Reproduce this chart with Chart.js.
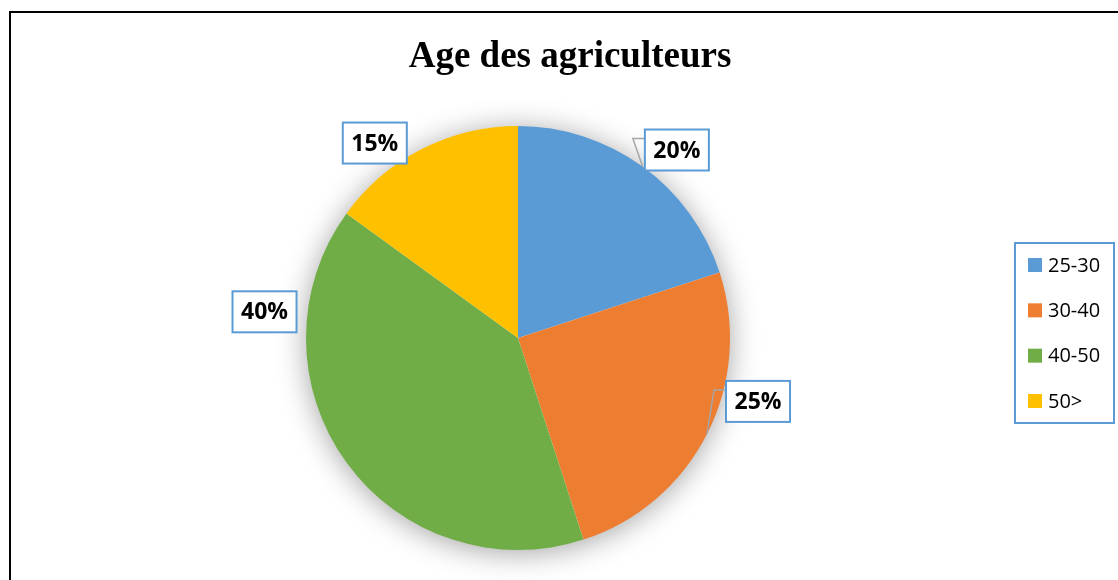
<!DOCTYPE html>
<html lang="fr">
<head>
  <meta charset="UTF-8" />
  <title>Age des agriculteurs</title>
  <script src="https://cdn.jsdelivr.net/npm/chart.js"></script>
  <style>
    html, body { margin: 0; padding: 0; background: #fff; overflow: hidden; }
    .frame { position: absolute; left: 9px; top: 11px; width: 1200px; height: 700px; border: 2px solid #000; box-sizing: border-box; }
    .chart-box { position: absolute; left: 0; top: 0; width: 1118px; height: 580px; }
  </style>
</head>
<body>
  <div class="frame"></div>
  <div class="chart-box"><canvas id="ageChart"></canvas></div>

  <script>
    // données du graphique
    const chartTitle = 'Age des agriculteurs';
    const ageGroups = ['25-30', '30-40', '40-50', '50>'];
    const sharePercent = [20, 25, 40, 15];
    const sliceColors = ['#5B9BD5', '#ED7D31', '#70AD47', '#FFC000'];

    // ombre douce sous le camembert
    const pieShadow = {
      id: 'pieShadow',
      beforeDatasetsDraw(chart) {
        const arc = chart.getDatasetMeta(0).data[0];
        if (!arc) return;
        const ctx = chart.ctx;
        ctx.save();
        ctx.shadowColor = 'rgba(0,0,0,0.38)';
        ctx.shadowBlur = 30;
        ctx.shadowOffsetY = 3;
        ctx.beginPath();
        ctx.arc(arc.x, arc.y, arc.outerRadius - 1, 0, Math.PI * 2);
        ctx.fillStyle = '#fff';
        ctx.fill();
        ctx.restore();
      }
    };

    // étiquettes encadrées avec lignes de repère
    const boxedLabels = {
      id: 'boxedLabels',
      afterDatasetsDraw(chart, args, opts) {
        const ctx = chart.ctx;
        const values = chart.data.datasets[0].data;
        const total = values.reduce((a, b) => a + b, 0);
        chart.getDatasetMeta(0).data.forEach((arc, i) => {
          const p = arc.getProps(['x', 'y', 'startAngle', 'endAngle', 'outerRadius'], true);
          const place = opts.placement[i];
          const a = place.angle * Math.PI / 180;
          const cx = p.x + place.dist * p.outerRadius * Math.cos(a);
          const cy = p.y + place.dist * p.outerRadius * Math.sin(a);
          const text = Math.round(values[i] / total * 100) + '%';

          ctx.save();
          ctx.font = 'bold 23px "Open Sans"';
          const w = ctx.measureText(text).width + 17;
          const h = 41;
          const left = cx - w / 2;
          const top = cy - h / 2;

          if (place.leader) {
            const mid = (p.startAngle + p.endAngle) / 2;
            const px = p.x + p.outerRadius * Math.cos(mid);
            const py = p.y + p.outerRadius * Math.sin(mid);
            ctx.beginPath();
            ctx.moveTo(px, py);
            ctx.lineTo(left - 12, top + 9);
            ctx.lineTo(left, top + 9);
            ctx.strokeStyle = '#A5A5A5';
            ctx.lineWidth = 1.5;
            ctx.stroke();
          }

          ctx.fillStyle = '#fff';
          ctx.fillRect(left, top, w, h);
          ctx.strokeStyle = '#5B9BD5';
          ctx.lineWidth = 2;
          ctx.strokeRect(left, top, w, h);
          ctx.fillStyle = '#000';
          ctx.textAlign = 'center';
          ctx.textBaseline = 'middle';
          ctx.fillText(text, cx, cy + 1);
          ctx.restore();
        });
      }
    };

    // légende encadrée à droite
    const boxedLegend = {
      id: 'boxedLegend',
      afterDraw(chart, args, opts) {
        const ctx = chart.ctx;
        const labels = chart.data.labels;
        const colors = chart.data.datasets[0].backgroundColor;
        ctx.save();
        ctx.strokeStyle = '#5B9BD5';
        ctx.lineWidth = 2;
        ctx.strokeRect(opts.left, opts.top, opts.width, opts.height);
        const step = (opts.height - 44) / (labels.length - 1);
        ctx.font = '20px "Open Sans"';
        ctx.textBaseline = 'middle';
        labels.forEach((lab, i) => {
          const y = opts.top + 22 + i * step;
          ctx.fillStyle = colors[i];
          ctx.fillRect(opts.left + 13, y - 7, 14, 14);
          ctx.fillStyle = '#000';
          ctx.fillText(lab, opts.left + 33, y + 1);
        });
        ctx.restore();
      }
    };

    // titre
    const chartHeading = {
      id: 'chartHeading',
      afterDraw(chart, args, opts) {
        const ctx = chart.ctx;
        ctx.save();
        ctx.font = 'bold 37px "Liberation Serif"';
        ctx.fillStyle = '#000';
        ctx.textAlign = 'center';
        ctx.textBaseline = 'alphabetic';
        ctx.fillText(opts.text, opts.x, opts.y);
        ctx.restore();
      }
    };

    new Chart(document.getElementById('ageChart'), {
      type: 'pie',
      data: {
        labels: ageGroups,
        datasets: [{
          data: sharePercent,
          backgroundColor: sliceColors,
          borderWidth: 0,
          hoverOffset: 0,
          offset: 0
        }]
      },
      options: {
        responsive: true,
        maintainAspectRatio: false,
        animation: false,
        events: [],
        layout: { padding: { top: 126, bottom: 30, left: 306, right: 388 } },
        plugins: {
          legend: { display: false },
          tooltip: { enabled: false },
          title: { display: false },
          chartHeading: { text: chartTitle, x: 570, y: 67 },
          boxedLegend: { left: 1015, top: 243, width: 99, height: 180 },
          boxedLabels: {
            placement: [
              { angle: -49.8, dist: 1.161, leader: true },
              { angle: 14.8, dist: 1.171, leader: true },
              { angle: 185.9, dist: 1.202, leader: false },
              { angle: 233.7, dist: 1.141, leader: false }
            ]
          }
        }
      },
      plugins: [pieShadow, boxedLabels, boxedLegend, chartHeading]
    });
  </script>
</body>
</html>
